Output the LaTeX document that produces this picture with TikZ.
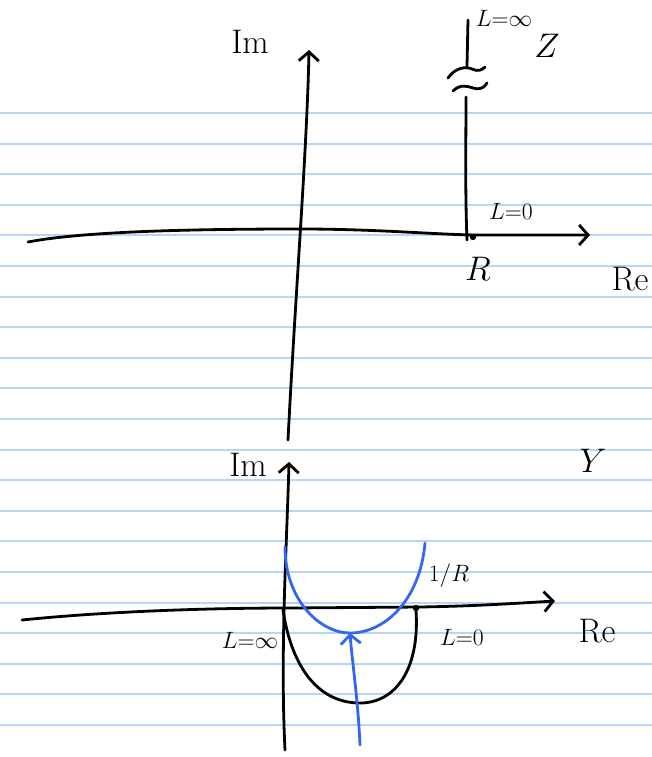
\documentclass[tikz,border=0pt]{standalone}
\usetikzlibrary{arrows.meta}

\definecolor{ligneclair}{RGB}{182,214,246}
\definecolor{bleustylo}{RGB}{52,102,238}

\tikzset{
  trait/.style={line width=2.8pt, line cap=round, line join=round},
  fleche/.style={trait, -{Straight Barb[length=9pt,width=20pt]}},
  etiq/.style={font=\Huge, inner sep=0pt, scale=1.37},
  etiqL/.style={font=\Huge, inner sep=0pt, scale=0.95},
}

\begin{document}
\begin{tikzpicture}[x=1pt, y=-1pt]

  % Cadre de la page
  \path[use as bounding box] (0,0) rectangle (652,757);

  % Lignes du cahier
  \foreach \k in {0,...,20} {
    \pgfmathsetmacro{\yl}{round(113+30.6*\k)}
    \draw[ligneclair, line width=1.8pt] (0,\yl) -- (652,\yl);
  }

  % ==============================================
  % 1. PLAN DES IMPEDANCES Z
  % ==============================================
  \draw[fleche] (28,242) .. controls (80,232) and (180,229) .. (300,229)
    .. controls (380,229) and (440,235) .. (480,235) -- (590,235);
  \draw[fleche] (288,440) .. controls (295,300) and (307,150) .. (309,50);

  % Demi-droite verticale a partir de R, coupee par le symbole ~~
  \draw[trait] (467,240) .. controls (465,190) and (466,140) .. (466,97);
  \draw[trait] (468,20) -- (467,66);
  \draw[trait] (448,78) .. controls (455,68) and (465,66) .. (472,69)
    .. controls (478,72) and (482,70) .. (485,67);
  \draw[trait] (453,91) .. controls (460,84) and (467,86) .. (473,88)
    .. controls (480,90) and (484,88) .. (487,83);
  \fill (473,237) circle (3.2);

  \node[etiq] (imZ) at (250,42) {Im};
  \node[etiqL] (lInfZ) at (504,18) {$L{=}\infty$};
  \node[etiq] (nomZ) at (547,46) {$Z$};
  \node[etiqL] (lZeroZ) at (511,211) {$L{=}0$};
  \node[etiq] (valR) at (478,269) {$R$};
  \node[etiq] (reZ) at (630,279) {Re};

  % ==============================================
  % 2. PLAN DES ADMITTANCES Y
  % ==============================================
  \draw[fleche] (22,620) .. controls (100,612) and (200,608) .. (290,608) -- (420,607)
    .. controls (480,606) and (520,603) .. (555,601);
  \draw[fleche] (285,750) .. controls (280,650) and (287,540) .. (289,462);

  % Demi-cercle parcouru par Y quand L varie
  \draw[trait] (283,610) .. controls (292,670) and (320,703) .. (360,703)
    .. controls (395,703) and (420,670) .. (416,610);
  \fill (416,608) circle (3.2);

  % Courbe bleue et sa fleche
  \draw[trait, bleustylo] (285,547) .. controls (285,600) and (320,633) .. (350,633)
    .. controls (385,633) and (420,600) .. (425,543);
  \draw[fleche, bleustylo] (360,745) .. controls (358,700) and (352,660) .. (350,633);

  \node[etiq] (imY) at (248,465) {Im};
  \node[etiq] (nomY) at (593,461) {$Y$};
  \node[etiqL] (unSurR) at (449,576) {$1/R$};
  \node[etiqL] (lInfY) at (250,640) {$L{=}\infty$};
  \node[etiqL] (lZeroY) at (462,637) {$L{=}0$};
  \node[etiq] (reY) at (597,631) {Re};

\end{tikzpicture}
\end{document}
